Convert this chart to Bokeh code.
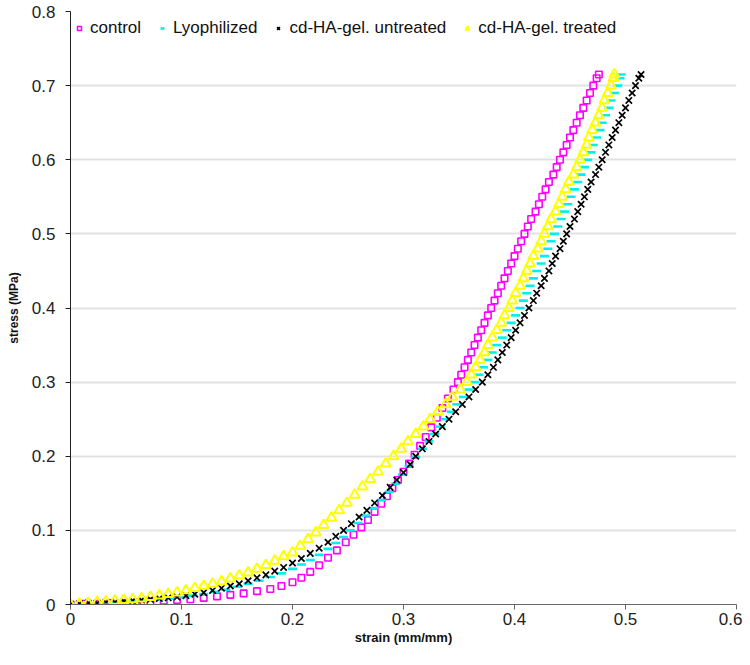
from bokeh.plotting import figure
from bokeh.models import FixedTicker, CustomJSTickFormatter
from bokeh.embed import file_html
from bokeh.resources import INLINE

# ---------------- data ----------------
control_strain = [0.000, 0.012, 0.024, 0.036, 0.048, 0.060, 0.072, 0.084, 0.096, 0.108,
                  0.120, 0.132, 0.144, 0.156, 0.168, 0.180, 0.190, 0.200, 0.208, 0.216,
                  0.224, 0.232, 0.240, 0.248, 0.255, 0.262, 0.268, 0.274, 0.280, 0.285,
                  0.290, 0.295, 0.300, 0.305, 0.310, 0.315, 0.320, 0.325, 0.330, 0.335,
                  0.340, 0.345, 0.349, 0.352, 0.355, 0.358, 0.361, 0.364, 0.367, 0.370,
                  0.373, 0.376, 0.379, 0.382, 0.385, 0.388, 0.391, 0.394, 0.397, 0.400,
                  0.403, 0.406, 0.409, 0.412, 0.415, 0.419, 0.422, 0.425, 0.428, 0.431,
                  0.435, 0.438, 0.441, 0.444, 0.447, 0.450, 0.453, 0.456, 0.459, 0.462,
                  0.465, 0.468, 0.471, 0.474, 0.476]
control_stress = [0.000, 0.001, 0.001, 0.002, 0.002, 0.003, 0.004, 0.005, 0.006, 0.007,
                  0.009, 0.011, 0.013, 0.015, 0.018, 0.021, 0.025, 0.030, 0.036, 0.044,
                  0.053, 0.063, 0.073, 0.084, 0.094, 0.104, 0.114, 0.125, 0.136, 0.146,
                  0.157, 0.168, 0.179, 0.190, 0.202, 0.214, 0.226, 0.239, 0.252, 0.265,
                  0.278, 0.290, 0.300, 0.310, 0.320, 0.330, 0.340, 0.350, 0.360, 0.370,
                  0.380, 0.390, 0.400, 0.410, 0.420, 0.430, 0.440, 0.450, 0.460, 0.470,
                  0.480, 0.490, 0.500, 0.510, 0.520, 0.530, 0.540, 0.550, 0.560, 0.570,
                  0.580, 0.590, 0.600, 0.610, 0.620, 0.630, 0.640, 0.650, 0.660, 0.670,
                  0.680, 0.690, 0.700, 0.710, 0.715]

lyo_strain = [0.000, 0.010, 0.020, 0.030, 0.040, 0.050, 0.060, 0.070, 0.080, 0.090,
              0.100, 0.110, 0.120, 0.130, 0.140, 0.150, 0.160, 0.170, 0.180, 0.190,
              0.200, 0.208, 0.216, 0.224, 0.232, 0.239, 0.246, 0.252, 0.259, 0.266,
              0.273, 0.280, 0.287, 0.293, 0.299, 0.305, 0.311, 0.317, 0.323, 0.328,
              0.333, 0.338, 0.343, 0.348, 0.354, 0.359, 0.364, 0.368, 0.372, 0.376,
              0.380, 0.384, 0.389, 0.393, 0.397, 0.401, 0.405, 0.408, 0.411, 0.414,
              0.417, 0.420, 0.424, 0.427, 0.430, 0.433, 0.436, 0.439, 0.442, 0.445,
              0.448, 0.451, 0.454, 0.457, 0.460, 0.463, 0.466, 0.469, 0.471, 0.474,
              0.477, 0.479, 0.482, 0.485, 0.487, 0.490, 0.493, 0.495, 0.496]
lyo_stress = [0.000, 0.001, 0.001, 0.002, 0.003, 0.004, 0.005, 0.006, 0.007, 0.008,
              0.010, 0.012, 0.014, 0.017, 0.020, 0.024, 0.028, 0.032, 0.037, 0.042,
              0.048, 0.054, 0.060, 0.067, 0.075, 0.083, 0.091, 0.100, 0.110, 0.120,
              0.130, 0.141, 0.152, 0.163, 0.175, 0.187, 0.199, 0.210, 0.220, 0.230,
              0.240, 0.250, 0.260, 0.270, 0.280, 0.290, 0.300, 0.310, 0.320, 0.330,
              0.340, 0.350, 0.360, 0.370, 0.380, 0.390, 0.400, 0.410, 0.420, 0.430,
              0.440, 0.450, 0.460, 0.470, 0.480, 0.490, 0.500, 0.510, 0.520, 0.530,
              0.540, 0.550, 0.560, 0.570, 0.580, 0.590, 0.600, 0.610, 0.620, 0.630,
              0.640, 0.650, 0.660, 0.670, 0.680, 0.690, 0.700, 0.710, 0.715]

untreated_strain = [0.000, 0.008, 0.016, 0.024, 0.032, 0.040, 0.048, 0.056, 0.064, 0.072,
                    0.080, 0.088, 0.096, 0.104, 0.112, 0.120, 0.128, 0.136, 0.144, 0.152,
                    0.160, 0.168, 0.176, 0.184, 0.192, 0.200, 0.208, 0.216, 0.224, 0.232,
                    0.239, 0.246, 0.253, 0.260, 0.267, 0.274, 0.281, 0.288, 0.294, 0.300,
                    0.306, 0.311, 0.317, 0.323, 0.329, 0.335, 0.341, 0.347, 0.353, 0.359,
                    0.365, 0.371, 0.376, 0.381, 0.385, 0.389, 0.393, 0.397, 0.401, 0.405,
                    0.409, 0.413, 0.417, 0.420, 0.424, 0.427, 0.431, 0.434, 0.437, 0.441,
                    0.444, 0.447, 0.450, 0.454, 0.457, 0.460, 0.463, 0.466, 0.469, 0.473,
                    0.476, 0.479, 0.482, 0.485, 0.488, 0.491, 0.494, 0.497, 0.500, 0.503,
                    0.506, 0.509, 0.512, 0.514]
untreated_stress = [0.000, 0.001, 0.002, 0.002, 0.003, 0.003, 0.004, 0.005, 0.006, 0.007,
                    0.008, 0.009, 0.010, 0.012, 0.014, 0.016, 0.019, 0.022, 0.025, 0.028,
                    0.032, 0.036, 0.040, 0.045, 0.050, 0.056, 0.062, 0.069, 0.076, 0.084,
                    0.092, 0.100, 0.109, 0.118, 0.127, 0.137, 0.147, 0.158, 0.168, 0.178,
                    0.189, 0.200, 0.210, 0.220, 0.230, 0.240, 0.250, 0.260, 0.270, 0.280,
                    0.290, 0.300, 0.310, 0.320, 0.330, 0.340, 0.350, 0.360, 0.370, 0.380,
                    0.390, 0.400, 0.410, 0.420, 0.430, 0.440, 0.450, 0.460, 0.470, 0.480,
                    0.490, 0.500, 0.510, 0.520, 0.530, 0.540, 0.550, 0.560, 0.570, 0.580,
                    0.590, 0.600, 0.610, 0.620, 0.630, 0.640, 0.650, 0.660, 0.670, 0.680,
                    0.690, 0.700, 0.710, 0.715]

treated_strain = [0.000, 0.008, 0.016, 0.024, 0.032, 0.040, 0.048, 0.056, 0.064, 0.072,
                  0.080, 0.088, 0.096, 0.104, 0.112, 0.120, 0.128, 0.136, 0.144, 0.152,
                  0.160, 0.168, 0.176, 0.184, 0.192, 0.200, 0.207, 0.214, 0.221, 0.228,
                  0.235, 0.242, 0.249, 0.256, 0.263, 0.270, 0.277, 0.284, 0.291, 0.298,
                  0.304, 0.311, 0.318, 0.324, 0.331, 0.338, 0.344, 0.351, 0.357, 0.361,
                  0.365, 0.369, 0.373, 0.376, 0.380, 0.384, 0.388, 0.391, 0.395, 0.398,
                  0.401, 0.405, 0.408, 0.411, 0.414, 0.417, 0.421, 0.424, 0.427, 0.430,
                  0.433, 0.437, 0.440, 0.443, 0.446, 0.449, 0.453, 0.456, 0.459, 0.462,
                  0.465, 0.467, 0.470, 0.473, 0.476, 0.479, 0.481, 0.484, 0.487, 0.489,
                  0.490]
treated_stress = [0.000, 0.001, 0.002, 0.003, 0.004, 0.005, 0.006, 0.007, 0.008, 0.010,
                  0.012, 0.014, 0.016, 0.019, 0.022, 0.025, 0.028, 0.031, 0.035, 0.039,
                  0.043, 0.048, 0.053, 0.059, 0.065, 0.070, 0.079, 0.088, 0.097, 0.107,
                  0.117, 0.127, 0.137, 0.148, 0.159, 0.169, 0.179, 0.190, 0.200, 0.210,
                  0.220, 0.230, 0.240, 0.250, 0.260, 0.270, 0.280, 0.290, 0.300, 0.310,
                  0.320, 0.330, 0.340, 0.350, 0.360, 0.370, 0.380, 0.390, 0.400, 0.410,
                  0.420, 0.430, 0.440, 0.450, 0.460, 0.470, 0.480, 0.490, 0.500, 0.510,
                  0.520, 0.530, 0.540, 0.550, 0.560, 0.570, 0.580, 0.590, 0.600, 0.610,
                  0.620, 0.630, 0.640, 0.650, 0.660, 0.670, 0.680, 0.690, 0.700, 0.710,
                  0.715]

x_ticks = [0, 0.1, 0.2, 0.3, 0.4, 0.5, 0.6]
y_ticks = [0, 0.1, 0.2, 0.3, 0.4, 0.5, 0.6, 0.7, 0.8]
x_title = "strain (mm/mm)"
y_title = "stress (MPa)"

FONT = "Liberation Sans"

p = figure(width=742, height=649, x_range=(0, 0.6), y_range=(0, 0.8),
           output_backend="svg", toolbar_location=None,
           min_border_left=70, min_border_right=6, min_border_top=11,
           min_border_bottom=45)
p.outline_line_color = None
p.background_fill_color = "white"

# series (drawing order as in the original)
p.scatter(control_strain, control_stress, marker="square", size=6.5,
          fill_color=None, line_color="#FF00FF", line_width=1.6,
          legend_label="control")
p.scatter(lyo_strain, lyo_stress, marker="dash", size=9,
          line_color="#00F0F0", line_width=2.6, legend_label="Lyophilized")
p.scatter(untreated_strain, untreated_stress, marker="x", size=9,
          line_color="#000000", line_width=1.7,
          legend_label="cd-HA-gel. untreated")
p.scatter(treated_strain, treated_stress, marker="triangle", size=10,
          fill_color=None, line_color="#FFFF00", line_width=2,
          legend_label="cd-HA-gel. treated")

fmt = CustomJSTickFormatter(code="return Math.abs(tick) < 1e-9 ? '0' : tick.toFixed(1);")

# axes
p.xaxis.ticker = FixedTicker(ticks=x_ticks)
p.yaxis.ticker = FixedTicker(ticks=y_ticks)
p.xaxis.formatter = fmt
p.yaxis.formatter = fmt
for ax in (p.xaxis, p.yaxis):
    ax.major_label_text_font = FONT
    ax.major_label_text_font_size = "17px"
    ax.major_label_text_color = "#222222"
    ax.axis_label_text_font = FONT
    ax.axis_label_text_font_style = "bold"
    ax.axis_label_text_color = "#111111"
    ax.minor_tick_line_color = None
    ax.major_tick_in = 0
    ax.major_tick_out = 5
p.xaxis.axis_label = x_title
p.yaxis.axis_label = y_title
p.xaxis.axis_label_text_font_size = "13px"
p.yaxis.axis_label_text_font_size = "12px"
p.xaxis.axis_line_color = "#666666"
p.xaxis.major_tick_line_color = "#666666"
p.yaxis.axis_line_color = "#222222"
p.yaxis.major_tick_line_color = "#222222"
p.xaxis.major_label_standoff = 3
p.xaxis.axis_label_standoff = 2
p.yaxis.major_label_standoff = 10
p.yaxis.axis_label_standoff = 8

p.xgrid.visible = False
p.ygrid.ticker = FixedTicker(ticks=y_ticks)
p.ygrid.grid_line_color = "#e2e2e2"
p.ygrid.grid_line_width = 2

# legend
lg = p.legend[0]
lg.orientation = "horizontal"
lg.location = "top_left"
lg.margin = 4
lg.padding = 6
lg.spacing = 16
lg.label_standoff = 6
lg.glyph_width = 10
lg.glyph_height = 26
lg.label_height = 26
lg.label_text_font = FONT
lg.label_text_font_size = "17px"
lg.label_text_color = "#111111"
lg.border_line_color = None
lg.background_fill_alpha = 0

open("out.html", "w").write(file_html(p, INLINE))
